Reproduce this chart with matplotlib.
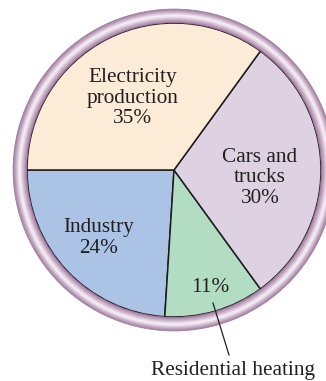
import numpy as np
import matplotlib.pyplot as plt
from matplotlib.patches import Wedge
from matplotlib.colors import to_rgb

# sources, listed counterclockwise starting from the left (9 o'clock)
sources = ['Industry', 'Residential heating', 'Cars and\ntrucks', 'Electricity\nproduction']
shares = [24, 11, 30, 35]
slice_colours = ['#abc4e6', '#b3ddc3', '#ded2e2', '#fbebd7']

W, H = 326, 381
fig = plt.figure(figsize=(W / 100, H / 100), dpi=100)
ax = fig.add_axes([0, 0, 1, 1])

cx, cy = 174, 211
r_in, r_out = 147, 161

wedges, _ = ax.pie(shares, colors=slice_colours, startangle=180, counterclock=True,
                   radius=r_in, center=(cx, cy), frame=True,
                   wedgeprops=dict(edgecolor='#1c1c1c', linewidth=1.1))
ax.set_xlim(0, W)
ax.set_ylim(0, H)
ax.set_aspect('equal')
ax.axis('off')

# shaded rim: colour profile from inner edge to outer edge
rim = ['#9a7296', '#ab85a8', '#bb98b8', '#cbb0ca', '#dccbdc', '#ece2ec',
       '#f6f1f6', '#e6d8e6', '#d2bdd2', '#c0a3bf', '#ad8cac', '#9a789a']
rim_rgb = [np.array(to_rgb(c)) for c in rim]
steps = 40
for i in range(steps):
    t = i / (steps - 1) * (len(rim_rgb) - 1)
    k = min(int(t), len(rim_rgb) - 2)
    f = t - k
    col = rim_rgb[k] * (1 - f) + rim_rgb[k + 1] * f
    r0 = r_in + (r_out - r_in) * i / steps
    ax.add_patch(Wedge((cx, cy), r0 + (r_out - r_in) / steps + 0.3, 0, 360,
                       width=(r_out - r_in) / steps + 0.3, facecolor=col,
                       edgecolor='none'))

font = dict(family='Liberation Serif', size=15.3, color='#231f20',
            ha='center', va='center', linespacing=1.1)

# label offsets from the centre
offsets = {
    'Industry': (-75, -68),
    'Residential heating': (36, -117),
    'Cars and\ntrucks': (86, -8),
    'Electricity\nproduction': (-41, 72),
}
for name, v in zip(sources, shares):
    dx, dy = offsets[name]
    if name == 'Residential heating':
        ax.text(cx + dx, cy + dy, f'{v}%', **font)
        ax.plot([cx + 39, cx + 55], [cy - 133, cy - 185], color='#231f20', lw=0.9)
        ax.text(cx + 59, cy - 200, name, **font)
    else:
        ax.text(cx + dx, cy + dy, f'{name}\n{v}%', **font)

fig.savefig('out.png', dpi=100)
